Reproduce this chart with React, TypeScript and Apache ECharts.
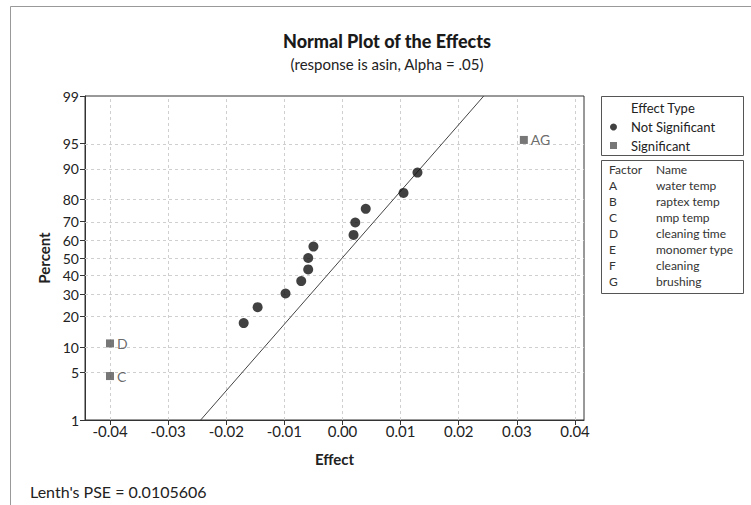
import React, { useEffect, useRef } from "react";
import * as echarts from "echarts";

// ---- Data ----
const yTickPercents = [1, 5, 10, 20, 30, 40, 50, 60, 70, 80, 90, 95, 99];
const yGridPercents = [5, 10, 20, 30, 40, 50, 60, 70, 80, 90, 95];
const xTickValues = [-0.04, -0.03, -0.02, -0.01, 0, 0.01, 0.02, 0.03, 0.04];
const xGridValues = [-0.04, -0.035, -0.03, -0.025, -0.02, -0.015, -0.01, -0.005, 0, 0.005, 0.01, 0.015, 0.02, 0.025, 0.03, 0.035, 0.04];

const notSigEffects = [-0.017, -0.0146, -0.0098, -0.0071, -0.0059, -0.0059, -0.005, 0.0019, 0.0022, 0.004, 0.0105, 0.0129];
const notSigPercents = [17.5, 24.0, 30.5, 37.0, 43.5, 50.0, 56.5, 63.0, 69.5, 76.0, 82.5, 89.0];

const sigNames = ["C", "D", "AG"];
const sigEffects = [-0.04, -0.04, 0.0312];
const sigPercents = [4.5, 11.0, 95.5];

const refLineEffects = [-0.0244, 0.0243];
const refLinePercents = [1, 99];

const factorLetters = ["A", "B", "C", "D", "E", "F", "G"];
const factorNames = ["water temp", "raptex temp", "nmp temp", "cleaning time", "monomer type", "cleaning", "brushing"];

const lenthPSE = "0.0105606";

// inverse standard normal CDF (Acklam) — the probability-axis transform
function normInv(p: number): number {
  const a = [-3.969683028665376e1, 2.209460984245205e2, -2.759285104469687e2, 1.38357751867269e2, -3.066479806614716e1, 2.506628277459239];
  const b = [-5.447609879822406e1, 1.615858368580409e2, -1.556989798598866e2, 6.680131188771972e1, -1.328068155288572e1];
  const c = [-7.784894002430293e-3, -3.223964580411365e-1, -2.400758277161838, -2.549732539343734, 4.374664141464968, 2.938163982698783];
  const d = [7.784695709041462e-3, 3.224671290700398e-1, 2.445134137142996, 3.754408661907416];
  const pl = 0.02425;
  let q: number, r: number;
  if (p < pl) {
    q = Math.sqrt(-2 * Math.log(p));
    return (((((c[0] * q + c[1]) * q + c[2]) * q + c[3]) * q + c[4]) * q + c[5]) / ((((d[0] * q + d[1]) * q + d[2]) * q + d[3]) * q + 1);
  } else if (p <= 1 - pl) {
    q = p - 0.5;
    r = q * q;
    return ((((((a[0] * r + a[1]) * r + a[2]) * r + a[3]) * r + a[4]) * r + a[5]) * q) / (((((b[0] * r + b[1]) * r + b[2]) * r + b[3]) * r + b[4]) * r + 1);
  } else {
    q = Math.sqrt(-2 * Math.log(1 - p));
    return -(((((c[0] * q + c[1]) * q + c[2]) * q + c[3]) * q + c[4]) * q + c[5]) / ((((d[0] * q + d[1]) * q + d[2]) * q + d[3]) * q + 1);
  }
}
const zOf = (pct: number) => normInv(pct / 100);

const FONT = "Lato";

export default function App() {
  const ref = useRef<HTMLDivElement>(null);
  useEffect(() => {
    if (!ref.current) return;
    const chart = echarts.init(ref.current, null, { renderer: "svg" });
    const yTickZ = yTickPercents.map(zOf);
    const labelFor = (v: number) => {
      let best = 0;
      let bd = Infinity;
      yTickZ.forEach((z, i) => {
        const dd = Math.abs(z - v);
        if (dd < bd) { bd = dd; best = i; }
      });
      return String(yTickPercents[best]);
    };
    const gridLineStyle = { color: "#cfcfcf", type: [3, 3] as any, width: 1 };
    const factorTexts: any[] = [];
    factorLetters.forEach((l, i) => {
      const y = 186.5 + i * 16;
      factorTexts.push({ type: "text", left: 609, top: y - 7, style: { text: l, fontFamily: FONT, fontSize: 12, fill: "#333" } });
      factorTexts.push({ type: "text", left: 656, top: y - 7, style: { text: factorNames[i], fontFamily: FONT, fontSize: 12, fill: "#333" } });
    });
    chart.setOption({
      animation: false,
      backgroundColor: "#ffffff",
      textStyle: { fontFamily: FONT },
      title: {
        text: "Normal Plot of the Effects",
        subtext: "(response is asin, Alpha = .05)",
        left: 387,
        top: 32,
        textAlign: "center",
        itemGap: 6,
        padding: 0,
        textStyle: { fontFamily: FONT, fontSize: 18, fontWeight: 900, color: "#1a1a1a", lineHeight: 18 },
        subtextStyle: { fontFamily: FONT, fontSize: 15, color: "#222", lineHeight: 15 },
      },
      grid: { left: 85, top: 96, width: 499, height: 324, show: true, borderColor: "#333", borderWidth: 1, containLabel: false },
      xAxis: {
        type: "value",
        min: -0.0443,
        max: 0.04155,
        name: "Effect",
        nameLocation: "middle",
        nameGap: 31,
        nameTextStyle: { fontFamily: FONT, fontSize: 15, fontWeight: "bold", color: "#222" },
        axisLine: { show: true, onZero: false, lineStyle: { color: "#333" } },
        axisTick: { show: true, customValues: xTickValues, length: 5, lineStyle: { color: "#333" } },
        axisLabel: { customValues: xTickValues, formatter: (v: number) => v.toFixed(2), fontFamily: FONT, fontSize: 15, color: "#222", margin: 3 },
        splitLine: { show: false },
      },
      yAxis: {
        type: "value",
        min: zOf(1),
        max: zOf(99),
        name: "Percent",
        nameLocation: "middle",
        nameGap: 33,
        nameRotate: 90,
        nameTextStyle: { fontFamily: FONT, fontSize: 15, fontWeight: "bold", color: "#222" },
        axisLine: { show: true, onZero: false, lineStyle: { color: "#333" } },
        axisTick: { show: true, customValues: yTickZ, length: 5, lineStyle: { color: "#333" } },
        axisLabel: { customValues: yTickZ, formatter: (v: number) => labelFor(v), fontFamily: FONT, fontSize: 14, color: "#222", margin: 6 },
        splitLine: { show: false },
      },
      legend: {
        orient: "vertical",
        left: 610,
        top: 120,
        itemWidth: 7,
        itemHeight: 7,
        itemGap: 4.5,
        padding: 0,
        data: [
          { name: "Not Significant", icon: "circle" },
          { name: "Significant", icon: "rect", itemStyle: { color: "#555" } },
        ],
        textStyle: { fontFamily: FONT, fontSize: 13, color: "#222", lineHeight: 14, padding: [0, 0, 0, 9] },
      },
      graphic: [
        { type: "rect", shape: { x: 10.5, y: 6.5, width: 800, height: 600 }, style: { fill: "none", stroke: "#999", lineWidth: 1 }, silent: true },
        { type: "rect", shape: { x: 601.5, y: 96.5, width: 142, height: 59 }, style: { fill: "none", stroke: "#555", lineWidth: 1 } },
        { type: "rect", shape: { x: 601.5, y: 160.5, width: 142, height: 133 }, style: { fill: "none", stroke: "#555", lineWidth: 1 } },
        { type: "text", left: 631, top: 101, style: { text: "Effect Type", fontFamily: FONT, fontSize: 13, fill: "#222" } },
        { type: "text", left: 609, top: 163.5, style: { text: "Factor", fontFamily: FONT, fontSize: 12, fill: "#333" } },
        { type: "text", left: 656, top: 163.5, style: { text: "Name", fontFamily: FONT, fontSize: 12, fill: "#333" } },
        ...factorTexts,
        { type: "text", left: 30, top: 483, style: { text: "Lenth's PSE = " + lenthPSE, fontFamily: FONT, fontSize: 16, fill: "#222" } },
      ],
      series: [
        {
          name: "grid",
          type: "line",
          data: [],
          z: 1,
          silent: true,
          markLine: {
            silent: true,
            z: 1,
            symbol: "none",
            label: { show: false },
            lineStyle: gridLineStyle,
            emphasis: { disabled: true },
            data: [
              ...xGridValues.map((v) => ({ xAxis: v })),
              ...yGridPercents.map((p) => ({ yAxis: zOf(p) })),
            ],
          },
        },
        {
          name: "Reference",
          type: "line",
          data: refLineEffects.map((e, i) => [e, zOf(refLinePercents[i])]),
          showSymbol: false,
          symbol: "none",
          lineStyle: { color: "#444", width: 1 },
          z: 2,
          silent: true,
        },
        {
          name: "Not Significant",
          type: "scatter",
          symbol: "circle",
          symbolSize: 10,
          itemStyle: { color: "#111" },
          data: notSigEffects.map((e, i) => [e, zOf(notSigPercents[i])]),
          z: 3,
        },
        {
          name: "Significant",
          type: "scatter",
          symbol: "rect",
          symbolSize: 8,
          itemStyle: { color: "#555" },
          data: sigEffects.map((e, i) => ({ value: [e, zOf(sigPercents[i])], name: sigNames[i] })),
          label: { show: true, position: "right", distance: 3, formatter: (p: any) => p.name, fontFamily: FONT, fontSize: 14, color: "#444" },
          z: 3,
        },
      ],
    });
    return () => chart.dispose();
  }, []);
  return <div ref={ref} style={{ position: "fixed", left: 0, top: 0, width: 751, height: 505, background: "#fff" }} />;
}
